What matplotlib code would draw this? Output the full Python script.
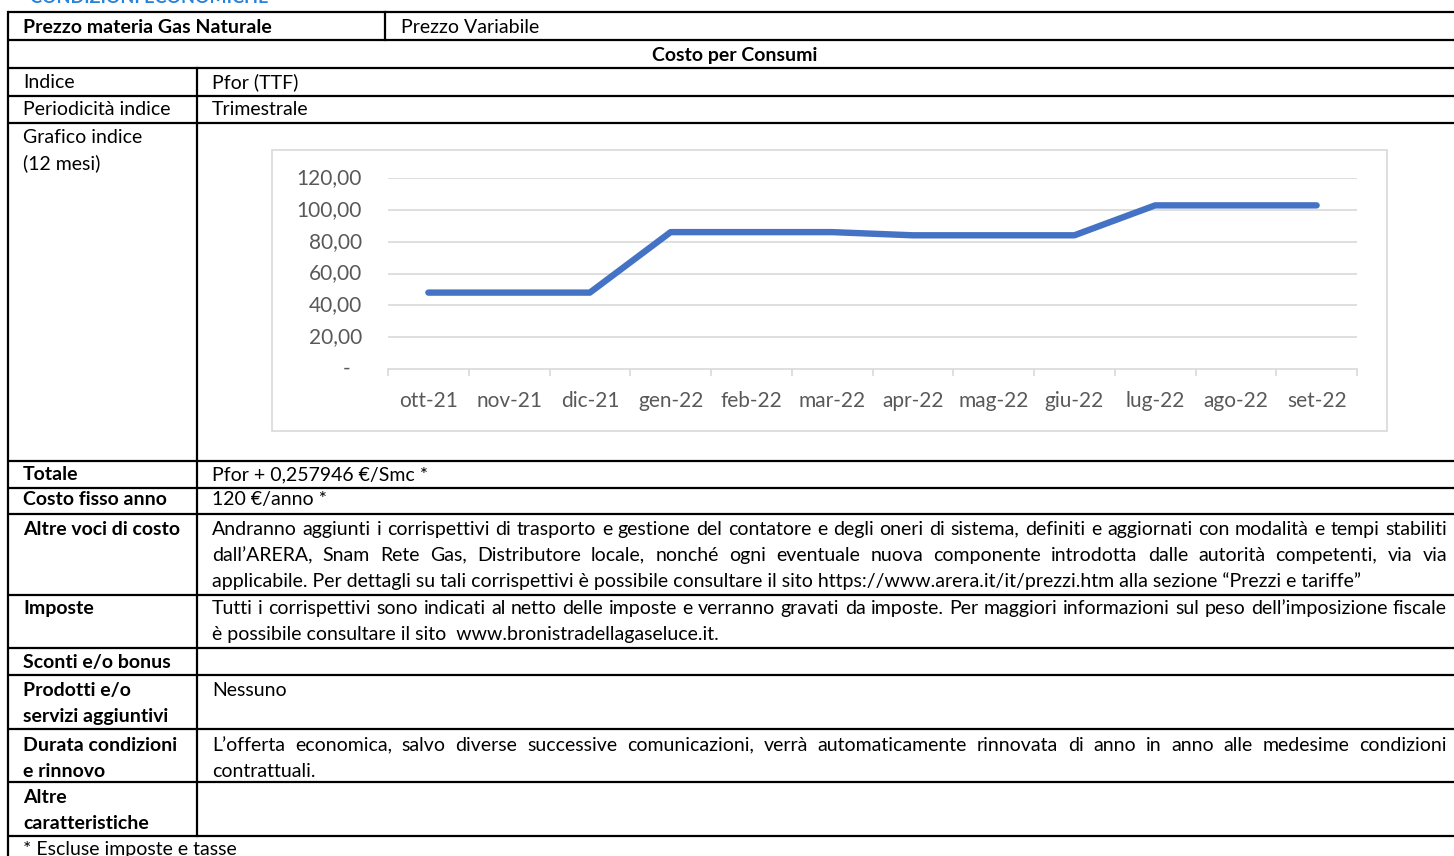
import matplotlib
matplotlib.use("Agg")
import numpy as np
import matplotlib.pyplot as plt
from matplotlib.patches import Rectangle

plt.rcParams['font.family'] = ['Lato', 'DejaVu Sans']

W, H = 1454, 856
BODY = 14
CHART_FS = 15

# chart data (Pfor TTF, 12 months)
months = ['ott-21', 'nov-21', 'dic-21', 'gen-22', 'feb-22', 'mar-22',
          'apr-22', 'mag-22', 'giu-22', 'lug-22', 'ago-22', 'set-22']
pfor = [48.0, 48.0, 48.0, 86.0, 86.0, 86.0, 84.0, 84.0, 84.0, 102.8, 102.8, 102.8]
y_ticks = [0, 20, 40, 60, 80, 100, 120]

# table text
left_labels = [
    ("Indice", False), ("Periodicità indice", False),
    ("Grafico indice\n(12 mesi)", False),
    ("Totale", True), ("Costo fisso anno", True), ("Altre voci di costo", True),
    ("Imposte", True), ("Sconti e/o bonus", True),
    ("Prodotti e/o\nservizi aggiuntivi", True),
    ("Durata condizioni\ne rinnovo", True), ("Altre\ncaratteristiche", True),
]
label_y = [82, 109, 137, 474, 499, 529, 608, 662, 690, 745, 797]

altre_voci = [
    "Andranno aggiunti i corrispettivi di trasporto e gestione del contatore e degli oneri di sistema, definiti e aggiornati con modalità e tempi stabiliti",
    "dall’ARERA, Snam Rete Gas, Distributore locale, nonché ogni eventuale nuova componente introdotta dalle autorità competenti, via via",
    "applicabile. Per dettagli su tali corrispettivi è possibile consultare il sito https://www.arera.it/it/prezzi.htm alla sezione “Prezzi e tariffe”",
]
imposte = [
    "Tutti i corrispettivi sono indicati al netto delle imposte e verranno gravati da imposte. Per maggiori informazioni sul peso dell’imposizione fiscale",
    "è possibile consultare il sito  www.bronistradellagaseluce.it.",
]
durata = [
    "L’offerta economica, salvo diverse successive comunicazioni, verrà automaticamente rinnovata di anno in anno alle medesime condizioni",
    "contrattuali.",
]

row_lines = [12, 40, 68, 96, 123, 461, 488, 514, 595, 648, 675, 729, 782, 836]
LINE_H = 26
BASE = 6

fig = plt.figure(figsize=(W / 100, H / 100), dpi=100)
ax = fig.add_axes([0, 0, 1, 1])
ax.set_xlim(0, W)
ax.set_ylim(H, 0)
ax.axis('off')
renderer = fig.canvas.get_renderer()


def put(x, yc, s, bold=False, **kw):
    lines = s.split("\n")
    for i, ln in enumerate(lines):
        ax.text(x, yc + i * LINE_H + BASE, ln, fontsize=BODY, va='baseline',
                fontweight='bold' if bold else 'normal', color='black', **kw)


def snap(t):
    # agg rounds every word's bitmap on its own; shift so baselines line up
    w, h, d = renderer.get_text_width_height_descent(t.get_text(),
                                                     t.get_fontproperties(), False)
    a = h - d
    return np.floor(a + d + 1e-6) - np.floor(a + 1e-6) - d


def justify(x0, x1, yc, line):
    words = line.split(" ")
    ts = [ax.text(0, yc + BASE, w, fontsize=BODY, va='baseline') for w in words]
    ws = [t.get_window_extent(renderer).width for t in ts]
    gap = (x1 - x0 - sum(ws)) / max(len(words) - 1, 1)
    x = x0
    for t, w in zip(ts, ws):
        t.set_position((x, yc + BASE + snap(t)))
        x += w + gap


def paragraph(x0, x1, yc, lines):
    for i, ln in enumerate(lines):
        if i < len(lines) - 1:
            justify(x0, x1, yc + i * LINE_H, ln)
        else:
            put(x0, yc + i * LINE_H, ln)


# grid of the table
lw = 1.6
for y in row_lines:
    ax.plot([8, W + 10], [y, y], color='black', lw=lw, solid_capstyle='butt')
ax.plot([8, 8], [12, H + 5], color='black', lw=lw)
ax.plot([385, 385], [12, 40], color='black', lw=lw)
ax.plot([197, 197], [68, 836], color='black', lw=lw)

# header, cut at the top as in the page
ax.text(30, 3, "CONDIZIONI ECONOMICHE", fontsize=13, fontweight='bold',
        color='#2A83D6', va='baseline')

put(23, 27, "Prezzo materia Gas Naturale", bold=True)
put(401, 27, "Prezzo Variabile")
ax.text(735, 55 + BASE, "Costo per Consumi", fontsize=BODY, fontweight='bold',
        ha='center', va='baseline')

for (s, b), yc in zip(left_labels, label_y):
    put(23, yc, s, bold=b)

VX = 212
RX = 1447
put(VX, 82, "Pfor (TTF)")
put(VX, 109, "Trimestrale")
put(VX, 474, "Pfor + 0,257946 €/Smc *")
put(VX, 499, "120 €/anno *")
paragraph(VX, RX, 529, altre_voci)
paragraph(VX, RX, 608, imposte)
put(VX, 690, "Nessuno")
paragraph(VX, RX, 745, durata)
put(23, 849, "* Escluse imposte e tasse")

# chart box
ax.add_patch(Rectangle((272, 150), 1387 - 272, 431 - 150, fill=False,
                       edgecolor='#D9D9D9', lw=1.2))

# chart
px0, px1, py0, py1 = 388, 1357, 178, 369
ax2 = fig.add_axes([px0 / W, 1 - py1 / H, (px1 - px0) / W, (py1 - py0) / H])
ax2.patch.set_alpha(0)
ax2.set_xlim(-0.5, len(months) - 0.5)
ax2.set_ylim(0, 120)
for v in y_ticks[1:]:
    ax2.axhline(v, color='#D9D9D9', lw=1.2, zorder=1)
ax2.plot(range(len(months)), pfor, color='#4472C4', lw=4.6,
         solid_capstyle='round', solid_joinstyle='round', zorder=3)
for s in ['top', 'right', 'left']:
    ax2.spines[s].set_visible(False)
ax2.spines['bottom'].set_color('#D9D9D9')
ax2.spines['bottom'].set_linewidth(1.2)
ax2.set_xticks(range(len(months)))
ax2.set_xticklabels(months, fontsize=CHART_FS, color='#595959')
ax2.tick_params(axis='x', which='major', length=0, pad=16)
ax2.set_xticks(np.arange(-0.5, len(months), 1), minor=True)
ax2.tick_params(axis='x', which='minor', length=5, width=1.2, color='#D9D9D9',
                direction='out')
ax2.set_yticks([])
for v in y_ticks:
    lab = f"{v:.2f}".replace(".", ",") if v else "-"
    xo = -26 / (px1 - px0) if v else -38 / (px1 - px0)
    ax2.text(xo, v, lab, transform=ax2.get_yaxis_transform(), fontsize=CHART_FS,
             color='#595959', ha='right', va='center')

fig.savefig("out.png", dpi=100)
